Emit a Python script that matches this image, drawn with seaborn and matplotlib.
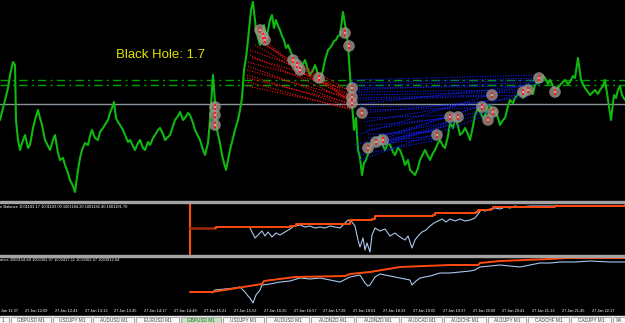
import numpy as np
import pandas as pd
import matplotlib
matplotlib.use("Agg")
import matplotlib.pyplot as plt
import seaborn as sns
from matplotlib.patches import Rectangle

sns.set_theme(style="dark")
plt.rcParams['font.family'] = ['Liberation Sans', 'DejaVu Sans']

# ---------------- data ----------------
# main chart: bar index (1 bar ~ 1 px) and price level (points)
price_bar = [0, 3, 5, 8, 10, 13, 15, 16, 18, 20, 22, 25, 28, 30,
             33, 35, 38, 40, 42, 45, 48, 50, 53, 55, 58, 60, 63, 65, 68, 70, 73, 75,
             78, 80, 82, 85, 88, 90, 92, 95, 98, 100, 103, 106, 108, 110, 112, 114, 116, 118, 120,
             123, 125, 128, 130, 133, 135, 138, 140, 143, 145, 148, 150, 153, 155, 158, 160, 163, 165, 168, 170,
             173, 175, 178, 180, 183, 185, 188, 190, 193, 195, 198, 200, 203, 205, 208, 210, 213, 215, 217,
             220, 222, 224, 226, 228, 230, 233, 235, 238, 240, 242, 244, 246, 248, 251, 253, 256,
             258, 260, 262, 264, 266, 268, 270, 272, 274, 276, 278, 280, 282, 284, 286, 288, 290, 292, 294, 296,
             298, 300, 303, 305, 308, 310, 313, 315, 318, 320, 323, 325, 328, 330, 332, 334, 336, 338, 340,
             343, 346, 348, 349, 351, 354, 356, 358, 360, 362, 364, 366, 368, 370,
             373, 375, 378, 380, 383, 385, 388, 390, 393, 395, 398, 400, 403, 405, 408, 410, 413, 415, 418, 420,
             423, 425, 428, 430, 433, 435, 438, 440, 443, 445, 448, 450, 453, 455, 458, 460, 463, 465, 468, 470,
             473, 475, 478, 480, 483, 485, 488, 490, 493, 495, 498, 500, 503, 505, 508, 510, 513, 515, 518, 520,
             523, 525, 528, 530, 533, 535, 538, 540, 543, 545, 548, 550, 553, 555, 558, 560, 563, 565, 568, 570,
             573, 575, 578, 581, 585, 588, 590, 593, 595, 598, 600, 603, 605, 608, 611,
             614, 616, 618, 620, 622, 625]
price_val = [78, 90, 98, 110, 123, 136, 133, 78, 58, 48, 55, 63, 50, 53,
             70, 78, 88, 80, 73, 58, 52, 48, 58, 63, 45, 38, 40, 33, 25, 18, 12, 6,
             28, 40, 48, 55, 53, 62, 68, 60, 58, 66, 70, 75, 78, 85, 90, 96, 80, 76, 73,
             68, 63, 56, 58, 52, 48, 55, 58, 50, 48, 56, 53, 60, 63, 68, 70, 64, 58, 61, 63,
             72, 78, 82, 86, 78, 80, 85, 83, 75, 68, 62, 58, 48, 43, 55, 78, 123, 95, 68,
             55, 43, 35, 28, 38, 48, 60, 68, 78, 88, 100, 128, 140, 158, 188, 196, 168,
             160, 153, 165, 173, 160, 168, 178, 183, 170, 178, 172, 168, 162, 158, 150, 153, 148, 143, 136, 133,
             130, 128, 134, 138, 128, 123, 128, 133, 124, 118, 128, 138, 148, 150, 153, 157, 158, 162, 163,
             186, 168, 153, 138, 108, 68, 80, 48, 40, 23, 35, 38, 44, 48,
             58, 53, 60, 63, 52, 48, 55, 53, 46, 43, 50, 48, 40, 33, 38, 28, 25, 23, 30, 38,
             44, 48, 42, 38, 45, 48, 55, 58, 52, 50, 62, 75, 70, 80, 72, 63, 66, 70, 64, 58,
             72, 83, 90, 86, 80, 83, 92, 93, 86, 88, 80, 73, 78, 80, 92, 98, 95, 100, 104, 106,
             100, 103, 108, 108, 104, 113, 116, 116, 122, 120, 114, 118, 112, 108, 110, 113, 116, 118, 114, 116,
             122, 120, 140, 118, 110, 106, 103, 106, 108, 104, 108, 112, 118, 98, 78,
             103, 100, 108, 112, 103, 98]

level_upper = 118   # green dash-dot lines
level_lower = 113
level_gray = 94

# trade marks
mark_bar = [215, 215, 215, 260, 263, 265, 293, 297, 300, 319, 345, 349, 352, 352, 352,
            362, 368, 376, 383, 437, 450, 458, 482, 488, 493, 492, 523, 528, 539, 555]
mark_val = [91, 83, 73, 168, 162, 158, 138, 133, 128, 120, 165, 152, 110, 101, 95,
            85, 50, 56, 58, 63, 81, 81, 91, 78, 86, 103, 106, 108, 120, 106]

# sell trades (red): open bar/price -> close bar/price
red_open_bar = [258, 258, 260, 255, 250, 250, 248, 248, 247, 247, 247, 248, 247, 293, 297, 300, 320, 252]
red_open_val = [163, 160, 156, 153, 148, 143, 136, 132, 128, 123, 120, 116, 112, 138, 132, 126, 120, 140]
red_close_bar = [300, 305, 350, 350, 300, 352, 350, 352, 350, 352, 350, 352, 350, 352, 352, 350, 352, 320]
red_close_val = [128, 123, 103, 98, 130, 96, 108, 93, 100, 91, 95, 88, 90, 106, 98, 102, 94, 120]

# buy trades (blue)
blue_open_bar = [352, 352, 352, 354, 354, 356, 356, 358, 358, 360, 360, 362, 362, 364, 364,
                 366, 366, 368, 368, 370, 372, 375, 378, 380, 383, 356, 358, 360, 355, 357]
blue_open_val = [118, 115, 112, 110, 108, 106, 103, 100, 98, 94, 91, 88, 85, 80, 76,
                 72, 68, 64, 60, 56, 52, 50, 54, 58, 58, 48, 43, 38, 53, 63]
blue_close_bar = [539, 539, 536, 528, 539, 523, 528, 492, 523, 539, 493, 482, 528, 458, 492,
                  450, 482, 437, 458, 437, 450, 493, 440, 482, 437, 450, 437, 488, 523, 539]
blue_close_val = [123, 120, 118, 112, 116, 108, 106, 103, 103, 114, 93, 90, 101, 83, 98,
                  80, 86, 66, 78, 62, 76, 88, 60, 93, 68, 73, 58, 83, 105, 118]

# indicator window 1 (balance / equity)
bal1_bar = [190, 215, 216, 290, 296, 348, 350, 372, 375, 433, 435, 476, 478, 491, 493, 553, 555, 625]
bal1_val = [27, 27, 28, 29, 31, 31, 35, 36, 39, 40, 42, 43, 45, 46, 48, 48, 49, 50]
eq1_bar = [250, 252, 255, 258, 262, 265, 268, 272, 276, 280,
           285, 290, 294, 300, 305, 310, 315, 320, 325, 330,
           335, 340, 345, 348, 352, 355, 358, 360, 363, 365,
           367, 370, 372, 375, 380, 385, 390, 395, 400, 405,
           408, 412, 415, 418, 422, 426, 430, 434, 438, 442,
           446, 450, 455, 460, 465, 470, 475, 478, 481, 485,
           490, 495, 500, 505, 510, 515, 520, 530, 540, 555]
eq1_val = [27, 23, 17, 20, 24, 19, 23, 18, 22, 20,
           23, 26, 29, 30, 28, 29, 27, 28, 27, 29,
           28, 27, 32, 35, 33, 29, 15, 8, 17, 5,
           12, 3, 20, 27, 24, 26, 19, 22, 18, 15,
           19, 7, 15, 19, 23, 25, 29, 32, 34, 36,
           33, 36, 34, 36, 34, 35, 37, 41, 45, 44,
           46, 47, 46, 48, 47, 49, 48, 49, 49, 49]

# indicator window 2
bal2_bar = [190, 212, 262, 264, 295, 345, 350, 370, 400, 450, 478, 480, 500, 550, 567, 625]
bal2_val = [13, 13, 21, 24, 28, 29, 31, 33, 38, 40, 40, 42, 44, 46, 47, 47]
eq2_bar = [212, 215, 225, 235, 240, 245, 248, 250, 253, 256,
           260, 262, 270, 280, 290, 300, 310, 320, 330, 340,
           350, 360, 365, 368, 370, 375, 380, 390, 395, 405,
           410, 412, 416, 420, 430, 440, 450, 460, 470, 475,
           480, 490, 500, 510, 520, 530, 540, 550, 560, 575,
           590, 610, 625]
eq2_val = [12, 15, 16, 17, 18, 13, 9, 7, 2, 10,
           15, 20, 21, 23, 24, 27, 26, 27, 25, 23,
           28, 30, 22, 19, 20, 28, 31, 29, 28, 26,
           25, 20, 24, 27, 29, 32, 32, 33, 34, 35,
           38, 39, 40, 39, 38, 40, 42, 42, 43, 43,
           44, 43, 43]

title_text = "Black Hole: 1.7"
ind1_text = "e Balance 1001183.17 1001183.00 1001184.20 1001182.40 1001191.70"
ind2_text = "ance 1003154.84 1003302.97 1003417.11 1003302.97 1003912.64"

time_bars = [1, 25, 55, 85, 114, 144, 174, 204, 234, 264, 294,
             323, 353, 383, 413, 443, 473, 502, 532, 562, 592]
time_labels = ["Jan 11:37", "27 Jan 12:09", "27 Jan 12:41", "27 Jan 13:13", "27 Jan 13:45",
               "27 Jan 14:17", "27 Jan 14:49", "27 Jan 15:21", "27 Jan 15:53", "27 Jan 16:25",
               "27 Jan 16:57", "27 Jan 17:29", "27 Jan 18:01", "27 Jan 18:33", "27 Jan 19:05",
               "27 Jan 19:37", "27 Jan 20:09", "27 Jan 20:41", "27 Jan 21:13", "27 Jan 21:45",
               "27 Jan 22:17"]

tab_names = ["1", "GBPUSD M1", "USDJPY M1", "AUDUSD M1", "EURUSD M1", "GBPUSD M1",
             "USDJPY M1", "AUDUSD M1", "AUDNZD M1", "AUDNZD M1", "AUDCAD M1", "AUDCHF M1",
             "AUDJPY M1", "CADCHF M1", "CADJPY M1", "XA"]
tab_edges = [-35, 10, 52, 92, 135, 180, 222, 265, 310, 355, 400, 443, 487, 527, 570, 612, 655]
active_tab = 5

# ---------------- figure ----------------
W, H = 625, 323
fig = plt.figure(figsize=(W / 100, H / 100), dpi=100, facecolor='black')


def box(top, bottom):
    return [0, 1 - bottom / H, 1, (bottom - top) / H]


ax = fig.add_axes(box(0, 200.5))
ax1 = fig.add_axes(box(203, 255))
ax2 = fig.add_axes(box(257, 305))
for a in (ax, ax1, ax2):
    a.set_facecolor('black')
    for s in a.spines.values():
        s.set_visible(False)
    a.grid(False)

# separators
for top, bot in [(200.5, 203), (255, 257)]:
    fig.patches.append(Rectangle((0, 1 - bot / H), 1, (bot - top) / H,
                                 transform=fig.transFigure, color='#a3a3a3', zorder=5))

# ---- main chart ----
ax.axhline(level_gray, color='#8a949e', lw=1.0, zorder=1)
ax.axhline(level_upper, color='#00a000', lw=1.0, ls=(0, (6, 3, 1.5, 3)), zorder=1)
ax.axhline(level_lower, color='#00a000', lw=1.0, ls=(0, (6, 3, 1.5, 3)), zorder=1)

sns.lineplot(x=price_bar, y=price_val, ax=ax, color='#10b810', lw=1.5,
             estimator=None, sort=False, zorder=3)

red_df = pd.DataFrame({
    'trade': list(range(len(red_open_bar))) * 2,
    'bar': red_open_bar + red_close_bar,
    'val': red_open_val + red_close_val})
blue_df = pd.DataFrame({
    'trade': list(range(len(blue_open_bar))) * 2,
    'bar': blue_open_bar + blue_close_bar,
    'val': blue_open_val + blue_close_val})
sns.lineplot(data=red_df, x='bar', y='val', units='trade', estimator=None, sort=False,
             ax=ax, color='#ff1010', lw=0.8, linestyle=(0, (1, 1.3)), zorder=4)
sns.lineplot(data=blue_df, x='bar', y='val', units='trade', estimator=None, sort=False,
             ax=ax, color='#1420ff', lw=0.8, linestyle=(0, (1, 1.3)), zorder=4)

sns.scatterplot(x=mark_bar, y=mark_val, ax=ax, s=70, color='#9c948c', alpha=0.8,
                edgecolor='none', zorder=5)
sns.scatterplot(x=mark_bar, y=mark_val, ax=ax, s=22, marker='|', color='#ff1a1a',
                linewidth=1.4, zorder=6)
sns.scatterplot(x=mark_bar, y=mark_val, ax=ax, s=1.5, color='#ffe0e0', edgecolor='none', zorder=7)

ax.set_xlim(0, 625)
ax.set_ylim(-2.5, 198)
ax.set_xticks([])
ax.set_yticks([])
ax.set_xlabel('')
ax.set_ylabel('')
ax.text(116, 198 - 58, title_text, color='#e2e200', fontsize=9.5,
        family=['Liberation Sans', 'DejaVu Sans'], va='baseline', ha='left', zorder=8)

# ---- indicator 1 ----
ax1.axvline(bal1_bar[0], color='#ff4a10', lw=1.5)
sns.lineplot(x=eq1_bar, y=eq1_val, ax=ax1, color='#a8c8ec', lw=0.8, estimator=None, sort=False)
sns.lineplot(x=bal1_bar[:2], y=bal1_val[:2], ax=ax1, color='#a02a08', lw=1.8,
             estimator=None, sort=False)
sns.lineplot(x=bal1_bar[1:], y=bal1_val[1:], ax=ax1, color='#ff4a10', lw=1.4, estimator=None,
             sort=False, drawstyle='steps-post')
ax1.set_xticks([])
ax1.set_yticks([])
ax1.set_xlabel('')
ax1.set_ylabel('')
ax1.set_xlim(0, 625)
ax1.set_ylim(0, 52)
fig.text(0.5 / W, 1 - 207 / H, ind1_text, color='white', fontsize=2.9, va='center', ha='left')

# ---- indicator 2 ----
sns.lineplot(x=eq2_bar, y=eq2_val, ax=ax2, color='#a8c8ec', lw=0.8, estimator=None, sort=False)
sns.lineplot(x=bal2_bar, y=bal2_val, ax=ax2, color='#ff4a10', lw=1.4, estimator=None, sort=False)
ax2.set_xlim(0, 625)
ax2.set_ylim(0, 48)
ax2.set_yticks([])
ax2.set_xlabel('')
ax2.set_ylabel('')
ax2.set_xticks(time_bars)
ax2.set_xticklabels(time_labels, ha='left', fontsize=2.8, color='white')
ax2.tick_params(axis='x', length=0, pad=3.2)
fig.text(0.5 / W, 1 - 260 / H, ind2_text, color='white', fontsize=2.9, va='center', ha='left')

# ---- tab bar ----
fig.patches.append(Rectangle((0, 0), 1, 7 / H, transform=fig.transFigure,
                             color='#ececec', zorder=1))
for i, name in enumerate(tab_names):
    x0, x1 = tab_edges[i], tab_edges[i + 1]
    fc = '#c4e4c0' if i == active_tab else '#f7f7f7'
    fig.patches.append(Rectangle((x0 / W + 1 / W, 0), (x1 - x0 - 2) / W, 6.5 / H,
                                 transform=fig.transFigure, facecolor=fc,
                                 edgecolor='#9a9a9a', lw=0.6, zorder=2))
    if i == 0:
        tx, ha = 3 / W, 'center'
    elif i == len(tab_names) - 1:
        tx, ha = (x0 + 4) / W, 'left'
    else:
        tx, ha = (x0 + x1) / 2 / W, 'center'
    fig.text(tx, 1 - 320.3 / H, name, fontsize=3.4,
             color='#2a5a2a' if i == active_tab else '#404040',
             ha=ha, va='center', zorder=3)

fig.savefig('out.png', dpi=100, facecolor='black')
